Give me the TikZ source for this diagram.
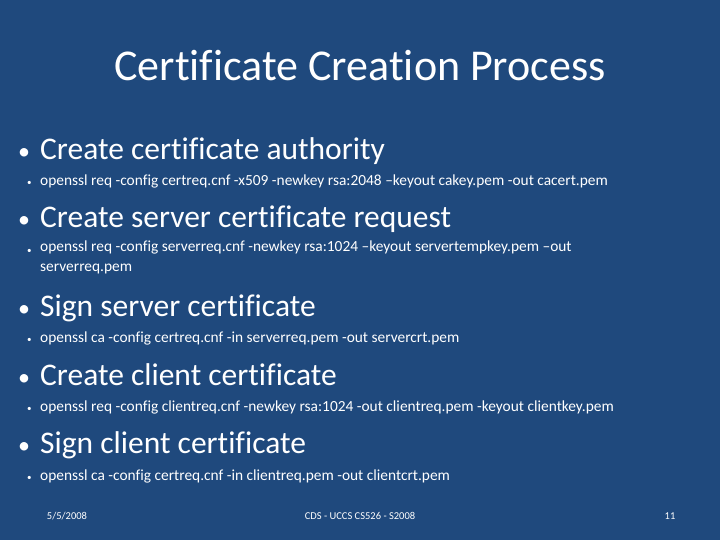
\documentclass[tikz,border=0pt]{standalone}
\usepackage{fontspec}
\setmainfont[RawFeature=-liga]{Carlito}
\definecolor{bg}{RGB}{31,73,125}
\begin{document}
\begin{tikzpicture}[x=1pt,y=-1pt,
  every node/.style={text=white,inner sep=0pt},
  lone/.style={anchor=base west,font=\fontsize{31.5}{34}\selectfont},
  ltwo/.style={anchor=base west,font=\fontsize{15.4}{20}\selectfont,align=left},
  bul/.style={anchor=base west},
  foot/.style={anchor=base,font=\fontsize{10.5}{13}\selectfont}]
\fill[bg] (0,0) rectangle (720,540);
\useasboundingbox (0,0) rectangle (720,540);
\node[anchor=base,font=\fontsize{44}{50}\selectfont] (title) at (360,81) {Certificate Creation Process};
\foreach \n/\y/\t in {a/160/Create certificate authority, b/227/Create server certificate request, c/316/Sign server certificate, d/385/Create client certificate, e/453/Sign client certificate}{
  \node[bul,font=\fontsize{24}{28}\selectfont] (b\n) at (18,\y) {•};
  \node[lone] (l\n) at (40,\y) {\t};
}
\foreach \n/\y in {a/186,b/253,c/342,d/411,e/480}{
  \node[bul,font=\fontsize{9}{12}\selectfont] (s\n) at (27,\y) {•};
}
\node[ltwo] (ta) at (40,186) {openssl req -config certreq.cnf -x509 -newkey rsa:2048 –keyout cakey.pem -out cacert.pem};
\node[ltwo,anchor=north west] (tb) at (40,241) {openssl req -config serverreq.cnf -newkey rsa:1024 –keyout servertempkey.pem –out\\serverreq.pem};
\node[ltwo] (tc) at (40,342) {openssl ca -config certreq.cnf -in serverreq.pem -out servercrt.pem};
\node[ltwo] (td) at (40,411) {openssl req -config clientreq.cnf -newkey rsa:1024 -out clientreq.pem -keyout clientkey.pem};
\node[ltwo] (te) at (40,480) {openssl ca -config certreq.cnf -in clientreq.pem -out clientcrt.pem};
\node[foot] (f1) at (67,519) {5/5/2008};
\node[foot] (f2) at (360,519) {CDS - UCCS CS526 - S2008};
\node[foot] (f3) at (670,519) {11};
\end{tikzpicture}
\end{document}
